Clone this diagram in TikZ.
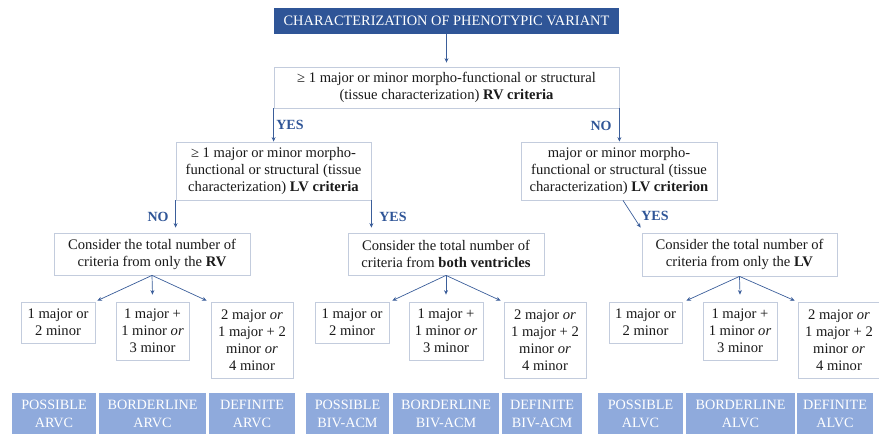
\documentclass[tikz,border=0pt]{standalone}
\usepackage{fontspec}
\setmainfont{Liberation Serif}
\usetikzlibrary{arrows.meta,calc}
\definecolor{navy}{HTML}{2F5597}
\definecolor{lightblue}{HTML}{8FAADC}
\definecolor{boxline}{HTML}{C3CCDD}
\definecolor{arrowc}{HTML}{3B5E9A}
\definecolor{txt}{HTML}{1A1A1A}
\begin{document}
\begin{tikzpicture}[x=1pt,y=-1pt,
 box/.style={draw=boxline, line width=0.8pt, fill=white, text=txt, align=center, inner sep=0pt, font=\fontsize{14.6}{17}\selectfont},
 titlebox/.style={fill=navy, text=white, inner sep=0pt, font=\fontsize{14.4}{17}\selectfont},
 outcome/.style={fill=lightblue, text=white, align=center, inner sep=0pt, font=\fontsize{14.2}{18}\selectfont},
 arr/.style={draw=arrowc, line width=0.7pt, -{Stealth[length=4.5pt,width=4pt]}},
 lbl/.style={text=navy, font=\fontsize{14}{16}\selectfont\bfseries, inner sep=0pt}
]
\useasboundingbox (0,0) rectangle (879,434);
% title
\node[titlebox, minimum width=345pt, minimum height=26pt] (T) at (446.5,21) {CHARACTERIZATION OF PHENOTYPIC VARIANT};
% first criterion
\node[box, minimum width=345pt, minimum height=41pt] (R) at (446.5,87.5) {≥ 1 major or minor morpho-functional or structural\\(tissue characterization) \textbf{RV criteria}};
% LV criteria
\node[box, minimum width=195pt, minimum height=58pt] (LVl) at (273.5,171) {≥ 1 major or minor morpho-\\functional or structural (tissue\\characterization) \textbf{LV criteria}};
\node[box, minimum width=196pt, minimum height=58pt] (LVr) at (619,171) {major or minor morpho-\\functional or structural (tissue\\characterization) \textbf{LV criterion}};
% consider boxes
\node[box, minimum width=196pt, minimum height=42pt] (Cl) at (152,254) {Consider the total number of\\criteria from only the \textbf{RV}};
\node[box, minimum width=196pt, minimum height=42pt] (Cm) at (446,254) {Consider the total number of\\criteria from \textbf{both ventricles}};
\node[box, minimum width=195pt, minimum height=43pt] (Cr) at (739.5,254.5) {Consider the total number of\\criteria from only the \textbf{LV}};
% small boxes left
\node[box, minimum width=74pt, minimum height=41pt] (l1) at (58,322.5) {1 major or\\2 minor};
\node[box, minimum width=73pt, minimum height=58pt] (l2) at (152.5,331) {1 major +\\1 minor \textit{or}\\3 minor};
\node[box, minimum width=82pt, minimum height=76pt] (l3) at (252,340) {2 major \textit{or}\\1 major + 2\\minor \textit{or}\\4 minor};
% small boxes middle
\node[box, minimum width=74pt, minimum height=41pt] (m1) at (352,322.5) {1 major or\\2 minor};
\node[box, minimum width=74pt, minimum height=58pt] (m2) at (446,331) {1 major +\\1 minor \textit{or}\\3 minor};
\node[box, minimum width=82pt, minimum height=76pt] (m3) at (545,340) {2 major \textit{or}\\1 major + 2\\minor \textit{or}\\4 minor};
% small boxes right
\node[box, minimum width=73pt, minimum height=41pt] (r1) at (645.5,322.5) {1 major or\\2 minor};
\node[box, minimum width=74pt, minimum height=58pt] (r2) at (740,331) {1 major +\\1 minor \textit{or}\\3 minor};
\node[box, minimum width=82pt, minimum height=76pt] (r3) at (839,340) {2 major \textit{or}\\1 major + 2\\minor \textit{or}\\4 minor};
% outcomes
\node[outcome, minimum width=84pt, minimum height=42pt] (oa1) at (54,414) {POSSIBLE\\ARVC};
\node[outcome, minimum width=107pt, minimum height=42pt] (oa2) at (152.5,414) {BORDERLINE\\ARVC};
\node[outcome, minimum width=86pt, minimum height=42pt] (oa3) at (252,414) {DEFINITE\\ARVC};
\node[outcome, minimum width=83pt, minimum height=42pt] (ob1) at (347.5,414) {POSSIBLE\\BIV-ACM};
\node[outcome, minimum width=106pt, minimum height=42pt] (ob2) at (446,414) {BORDERLINE\\BIV-ACM};
\node[outcome, minimum width=80pt, minimum height=42pt] (ob3) at (542,414) {DEFINITE\\BIV-ACM};
\node[outcome, minimum width=85pt, minimum height=42pt] (oc1) at (640.5,414) {POSSIBLE\\ALVC};
\node[outcome, minimum width=109pt, minimum height=42pt] (oc2) at (740.5,414) {BORDERLINE\\ALVC};
\node[outcome, minimum width=76pt, minimum height=42pt] (oc3) at (835,414) {DEFINITE\\ALVC};
% labels
\node[lbl] (y1) at (290,125) {YES};
\node[lbl] (n1) at (601,126) {NO};
\node[lbl] (n2) at (158,217) {NO};
\node[lbl] (y2) at (393,217) {YES};
\node[lbl] (y3) at (655,216) {YES};
% connectors
\draw[arr, shorten >=4pt] (T.south) -- (R.north);
\draw[arr] (R.south west) -- (R.south west |- LVl.north);
\draw[arr] (R.south east) -- (R.south east |- LVr.north);
\draw[arr, shorten >=5pt] (LVl.south west) -- (LVl.south west |- Cl.north);
\draw[arr, shorten >=5pt] (LVl.south east) -- (LVl.south east |- Cm.north);
\draw[arr] ($(LVr.south)+(4,0)$) -- ($(Cr.north west)+(-1,-5)$);
% fans
\draw[arr] (Cl.south) -- ($(l1.north east)+(2,-1)$);
\draw[arr] (Cl.south) -- ($(l2.north)+(0,-7)$);
\draw[arr] (Cl.south) -- ($(l3.north west)+(-4,-1)$);
\draw[arr] (Cm.south) -- ($(m1.north east)+(3,-1)$);
\draw[arr] (Cm.south) -- ($(m2.north)+(0,-7)$);
\draw[arr] (Cm.south) -- ($(m3.north west)+(-3,-1)$);
\draw[arr] (Cr.south) -- ($(r1.north east)+(4,-1)$);
\draw[arr] (Cr.south) -- ($(r2.north)+(0,-7)$);
\draw[arr] (Cr.south) -- ($(r3.north west)+(-3,-1)$);
\end{tikzpicture}
\end{document}
